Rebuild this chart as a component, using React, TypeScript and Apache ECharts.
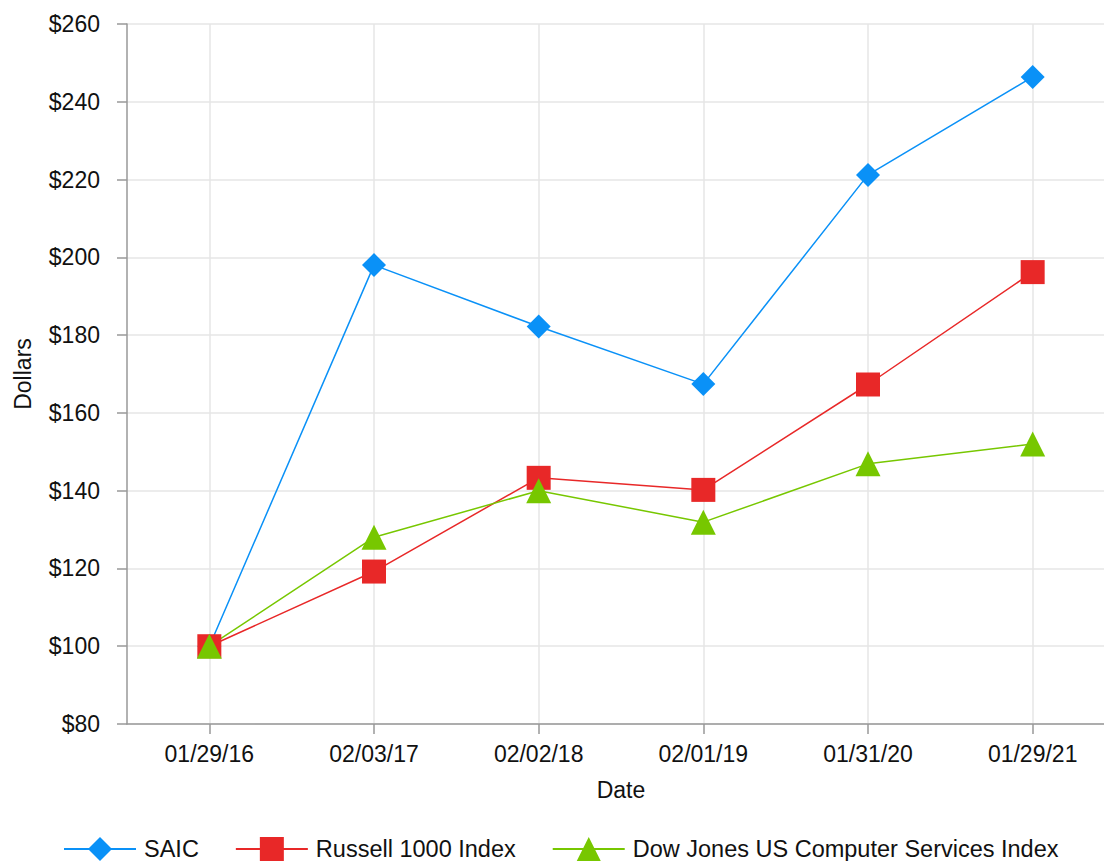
import React, { useEffect, useRef } from "react";
import * as echarts from "echarts";

const dates = ["01/29/16", "02/03/17", "02/02/18", "02/01/19", "01/31/20", "01/29/21"];
const saic = [100, 198.0, 182.2, 167.4, 221.2, 246.4];
const russell = [100, 119.2, 143.3, 140.2, 167.3, 196.2];
const dowJones = [100, 128.0, 140.0, 131.9, 146.9, 152.0];
const seriesNames = ["SAIC", "Russell 1000 Index", "Dow Jones US Computer Services Index"];

const FONT = "'Liberation Sans', Arial, Helvetica, sans-serif";
const TEXT = "#111111";

export default function App() {
  const ref = useRef<HTMLDivElement>(null);
  useEffect(() => {
    if (!ref.current) return;
    const chart = echarts.init(ref.current, null, { renderer: "svg" });
    const mk = (name: string, data: number[], color: string, symbol: string, size: number) => ({
      name,
      type: "line",
      data,
      symbol,
      symbolSize: size,
      showAllSymbol: true,
      lineStyle: { color, width: 1.5 },
      itemStyle: { color },
      emphasis: { disabled: true },
    });
    chart.setOption({
      animation: false,
      textStyle: { fontFamily: FONT },
      grid: { left: 127, top: 24, width: 988, height: 700, outerBoundsMode: "none", containLabel: false },
      xAxis: {
        type: "category",
        data: dates,
        boundaryGap: true,
        name: "Date",
        nameLocation: "middle",
        nameGap: 54,
        nameTextStyle: { fontSize: 23, color: TEXT, fontFamily: FONT },
        axisLine: { show: true, lineStyle: { color: "#999999", width: 1.5 } },
        axisTick: { show: true, alignWithLabel: true, length: 10, lineStyle: { color: "#999999", width: 1.5 } },
        axisLabel: { fontSize: 23, color: TEXT, margin: 18, fontFamily: FONT },
        splitLine: { show: true, alignWithLabel: true, lineStyle: { color: "#e6e6e6", width: 1.5 } },
      },
      yAxis: {
        type: "value",
        min: 80,
        max: 260,
        interval: 20,
        name: "Dollars",
        nameLocation: "middle",
        nameGap: 93,
        nameTextStyle: { fontSize: 23, color: TEXT, fontFamily: FONT },
        axisLine: { show: true, lineStyle: { color: "#999999", width: 1.5 } },
        axisTick: { show: true, length: 10, lineStyle: { color: "#999999", width: 1.5 } },
        axisLabel: { fontSize: 23, color: TEXT, margin: 27, formatter: "${value}", fontFamily: FONT },
        splitLine: { show: true, lineStyle: { color: "#e6e6e6", width: 1.5 } },
      },
      legend: {
        left: 63,
        top: 837,
        padding: 0,
        itemWidth: 72,
        itemHeight: 30,
        itemGap: 36,
        textStyle: { fontSize: 23.5, color: TEXT, fontFamily: FONT, padding: [0, 0, 0, 3] },
        data: seriesNames,
      },
      series: [
        mk(seriesNames[0], saic, "#0a91f7", "diamond", 24),
        mk(seriesNames[1], russell, "#e82828", "rect", 24),
        mk(seriesNames[2], dowJones, "#77c700", "triangle", 25),
      ],
    });
    return () => chart.dispose();
  }, []);
  return <div ref={ref} style={{ width: 1104, height: 861, position: "absolute", left: 0, top: 0 }} />;
}
